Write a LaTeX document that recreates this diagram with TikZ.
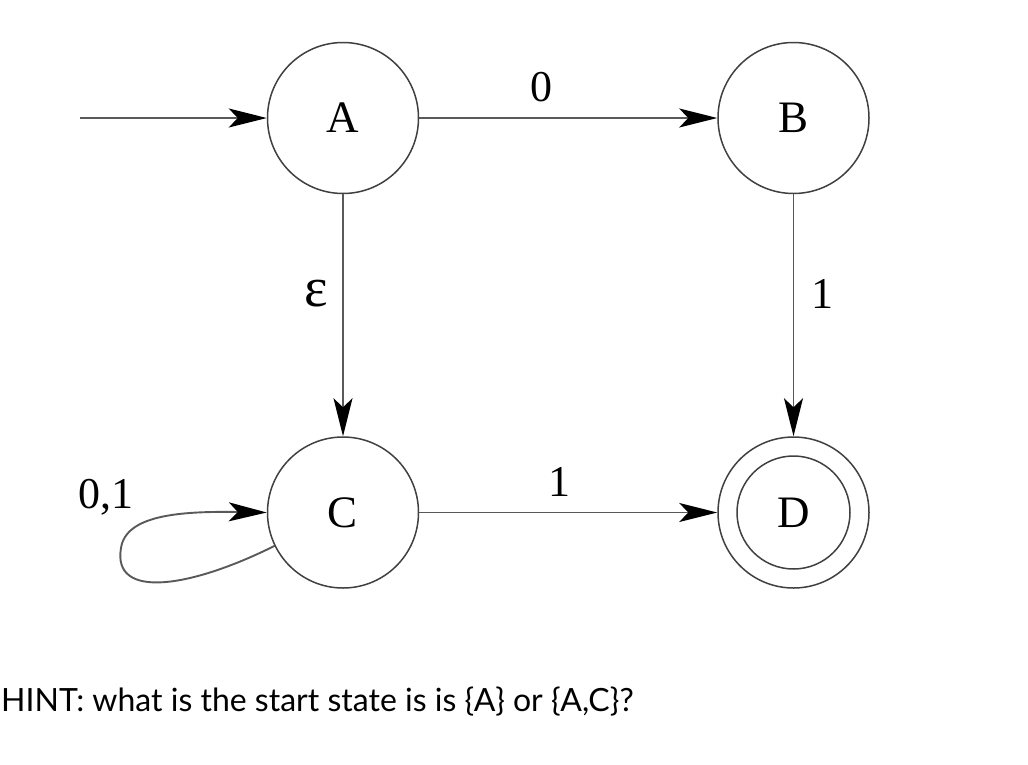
\documentclass[tikz,border=0pt]{standalone}
\usepackage{fontspec}
\setmainfont{Liberation Serif}
\newfontfamily\hintfont{Lato}
\usepackage{tikz}
\usetikzlibrary{arrows.meta, positioning}

\begin{document}
\begin{tikzpicture}[
    x=1pt, y=-1pt,
    node distance=242pt and 298pt,
    statebox/.style={
        circle,
        draw=black!75,
        line width=1.5pt,
        minimum size=151pt,
        inner sep=0pt,
        font=\fontsize{45}{50}\selectfont
    },
    lbl/.style={
        inner sep=0pt,
        font=\fontsize{44}{50}\selectfont
    },
    arrow/.style={
        -{Stealth[length=38pt, width=19pt, inset=9pt, color=black]},
        line width=1.9pt,
        draw=black!65
    }
]
\useasboundingbox (0,0) rectangle (1028,764);

% States
\node[statebox] (A) at (343,118) {A};
\node[statebox, right=of A] (B) {B};
\node[statebox, below=of A] (C) {C};
\node[statebox, below=of B] (D) {D};
\draw[draw=black!75, line width=1.5pt] (D) circle[radius=56.5pt];

% Start arrow
\coordinate (start) at (80,118);
\draw[arrow] (start) -- (A.west);

% Transitions
\draw[arrow] (A) -- node[lbl, pos=0.41, above=15pt] {0} (B);
\draw[arrow] (A) -- node[lbl, pos=0.41, left=14pt, font=\fontsize{56}{60}\selectfont] {ε} (C);
\draw[arrow] (B) -- node[lbl, pos=0.41, right=17pt] {1} (D);
\draw[arrow] (C) -- node[lbl, pos=0.47, above=15pt] {1} (D);

% Self loop on C
\draw[arrow] (C.206) .. controls (190,588) and (112,600) .. (121,548)
    .. controls (126,515) and (180,511) .. (C.west);
\node[lbl] (loop) at (106,497) {0,1};

% Hint
\node[anchor=base west, inner sep=0pt, font=\hintfont\fontsize{32}{36}\selectfont]
    (hint) at (1,711) {HINT: what is the start state is is \{A\} or \{A,C\}?};

\end{tikzpicture}
\end{document}
